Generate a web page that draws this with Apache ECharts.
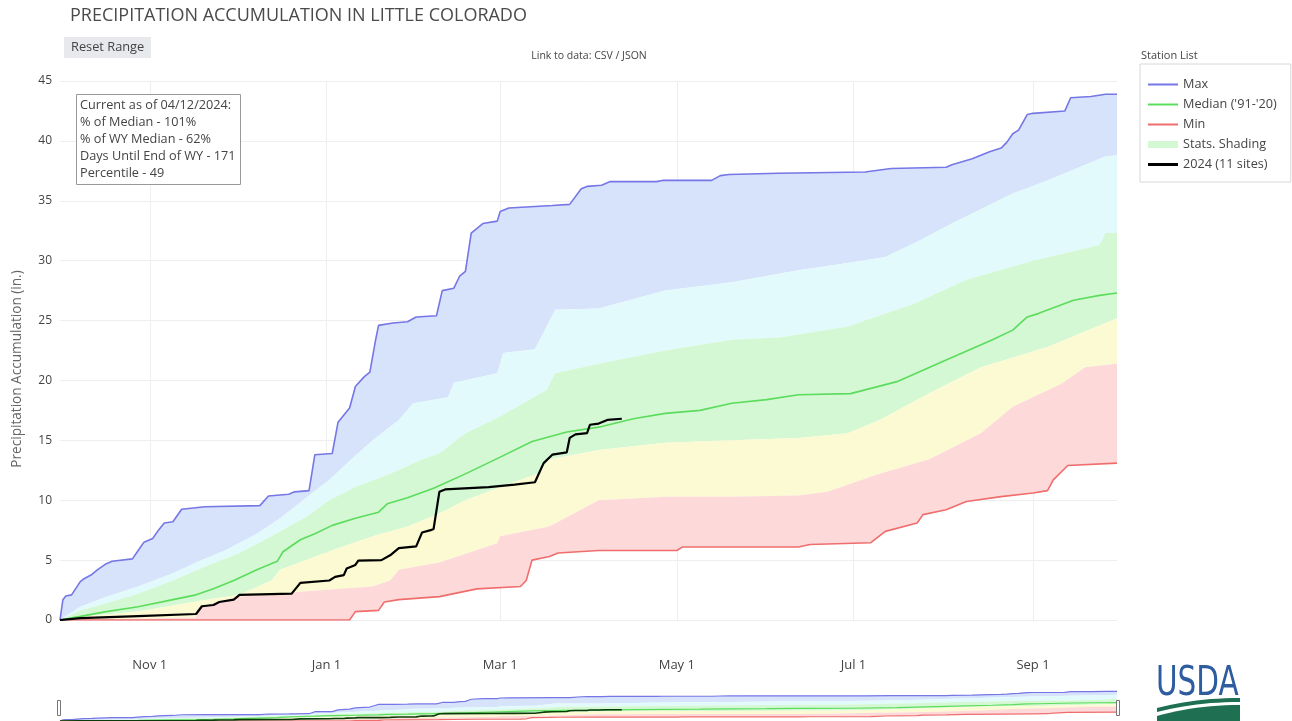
<!DOCTYPE html>
<html>
<head>
<meta charset="utf-8">
<script src="https://cdn.jsdelivr.net/npm/echarts@6/dist/echarts.min.js"></script>
<style>
html,body{margin:0;padding:0;background:#fff;}
#chart{width:1292px;height:721px;}
</style>
</head>
<body>
<div id="chart"></div>
<script>
// x values are days since 2023-10-01 (start of water year 2024)
const tickDays   = [31, 92, 152, 213, 274, 336];
const tickLabels = ['Nov 1', 'Jan 1', 'Mar 1', 'May 1', 'Jul 1', 'Sep 1'];

const maxPts = [[0,0],[1,1.7],[2,2.0],[4,2.1],[7,3.2],[8,3.4],[11,3.8],[13,4.2],[16,4.7],[18,4.9],[25,5.1],[27,5.8],[29,6.5],[32,6.8],[34,7.5],[36,8.1],[39,8.2],[42,9.25],[50,9.45],[69,9.55],[72,10.35],[79,10.5],[81,10.7],[86,10.8],[88,13.8],[94,13.9],[96,16.5],[100,17.7],[102,19.5],[105,20.3],[107,20.7],[109,23.4],[110,24.6],[115,24.8],[120,24.9],[123,25.3],[130,25.4],[132,27.5],[136,27.7],[138,28.7],[140,29.1],[142,32.3],[146,33.1],[151,33.3],[152,34.1],[155,34.4],[170,34.6],[176,34.7],[180,36.0],[182,36.2],[187,36.3],[190,36.6],[206,36.6],[208,36.7],[225,36.7],[228,37.1],[231,37.2],[248,37.3],[278,37.4],[287,37.7],[306,37.8],[308,38.0],[315,38.5],[321,39.1],[325,39.4],[327,39.9],[329,40.6],[331,40.9],[334,42.2],[336,42.3],[347,42.5],[349,43.6],[356,43.7],[361,43.9],[365,43.9]];

const medianPts = [[0,0],[7,0.3],[16,0.7],[27,1.1],[39,1.7],[47,2.1],[53,2.6],[60,3.3],[68,4.2],[75,4.9],[77,5.7],[83,6.7],[88,7.2],[94,7.9],[102,8.5],[110,9.0],[113,9.7],[120,10.2],[129,11.0],[140,12.2],[152,13.6],[163,14.9],[175,15.7],[186,16.1],[198,16.8],[209,17.25],[221,17.5],[232,18.1],[244,18.4],[255,18.8],[273,18.9],[289,19.9],[306,21.7],[322,23.4],[329,24.2],[334,25.3],[338,25.6],[350,26.7],[359,27.1],[365,27.3]];

const minPts = [[0,0],[100,0],[102,0.7],[110,0.8],[112,1.5],[117,1.7],[131,1.95],[136,2.2],[144,2.6],[159,2.8],[161,3.3],[163,5.0],[169,5.3],[172,5.6],[186,5.8],[213,5.8],[215,6.1],[255,6.1],[259,6.3],[280,6.45],[285,7.4],[296,8.1],[298,8.8],[306,9.2],[313,9.9],[325,10.3],[336,10.6],[341,10.8],[343,11.7],[348,12.9],[365,13.1]];

const wy2024Pts = [[0,0],[7,0.15],[27,0.33],[47,0.5],[49,1.15],[53,1.25],[55,1.5],[60,1.7],[62,2.1],[80,2.2],[83,3.1],[93,3.3],[95,3.6],[98,3.75],[99,4.3],[102,4.6],[103,4.95],[111,5.0],[114,5.4],[117,6.0],[123,6.15],[125,7.3],[128,7.5],[129,7.6],[131,10.7],[133,10.9],[148,11.1],[157,11.3],[164,11.5],[167,13.1],[170,13.8],[175,14.0],[176,15.2],[178,15.5],[182,15.6],[183,16.3],[186,16.4],[189,16.7],[194,16.8]];

const p90Pts = [[0,0],[7,1.1],[16,1.95],[27,2.8],[39,3.9],[48,4.9],[57,5.8],[68,7.2],[76,8.5],[85,10.2],[93,11.7],[101,13.5],[108,15.0],[117,16.7],[122,18.1],[134,18.6],[136,19.8],[151,20.6],[153,22.3],[164,22.6],[171,25.9],[186,26.0],[209,27.5],[232,28.2],[255,29.2],[272,29.8],[285,30.3],[297,31.7],[308,33.1],[329,35.6],[341,36.7],[352,37.8],[361,38.7],[365,38.8]];

const p70Pts = [[0,0],[7,0.8],[16,1.4],[27,2.2],[39,3.3],[50,4.45],[62,5.6],[73,7.0],[85,8.6],[93,10.0],[102,11.1],[114,12.2],[125,13.4],[131,13.9],[140,15.6],[152,17.0],[168,19.2],[171,20.6],[186,21.4],[209,22.5],[232,23.4],[249,23.6],[272,24.5],[295,26.4],[313,28.4],[336,30.0],[359,31.3],[361,32.3],[365,32.3]];

const p30Pts = [[0,0],[7,0.28],[27,0.7],[50,1.67],[62,2.1],[73,3.3],[76,4.2],[85,5.0],[96,6.0],[108,7.0],[120,7.8],[131,8.9],[140,10.0],[152,11.1],[165,12.2],[169,13.4],[186,14.2],[209,14.8],[232,15.0],[255,15.2],[272,15.6],[283,16.7],[300,18.9],[318,21.1],[341,22.8],[365,25.2]];

const p10Pts = [[0,0],[27,0.1],[47,0.2],[48,1.1],[62,1.95],[76,2.2],[85,2.4],[108,2.8],[114,3.3],[117,4.2],[131,4.8],[151,6.4],[152,7.0],[169,7.8],[186,10.0],[209,10.3],[232,10.3],[255,10.4],[265,10.7],[283,12.2],[300,13.4],[318,15.6],[329,17.8],[346,19.75],[354,21.1],[365,21.4]];

const infoLines = ['Current as of 04/12/2024:', '% of Median - 101%', '% of WY Median - 62%', 'Days Until End of WY - 171', 'Percentile - 49'];

// styles
const FONT = "'Open Sans', 'Noto Sans', sans-serif";
const bands = [
  { upper: maxPts, lower: p90Pts, color: '#d6e3fa' },
  { upper: p90Pts, lower: p70Pts, color: '#e2fafc' },
  { upper: p70Pts, lower: p30Pts, color: '#d4f8d4' },
  { upper: p30Pts, lower: p10Pts, color: '#fbfad3' },
  { upper: p10Pts, lower: minPts, color: '#fdd9d9' }
];
const C_MAX = '#7676e6', C_MED = '#5cdc5c', C_MIN = '#ef6d6d', C_NOW = '#000000', C_SHADE = '#d4f8d4';

function bandSeries(name, xi) {
  return {
    type: 'custom', name: name, xAxisIndex: xi, yAxisIndex: xi, z: 1, silent: true,
    itemStyle: { color: C_SHADE },
    encode: { x: 0, y: 1 },
    data: bands.map((b, i) => [i, 0]),
    renderItem: function (params, api) {
      const b = bands[params.dataIndex];
      const pts = b.upper.map(p => api.coord(p))
        .concat(b.lower.slice().reverse().map(p => api.coord(p)));
      return { type: 'polygon', shape: { points: pts }, style: { fill: b.color } };
    }
  };
}
function lineSeries(name, data, color, width, xi, z) {
  return {
    type: 'line', name: name, data: data, xAxisIndex: xi, yAxisIndex: xi,
    symbol: 'none', showSymbol: false, z: z, silent: true,
    lineStyle: { color: color, width: width }, itemStyle: { color: color }
  };
}

// USDA logo swoosh outline helpers (decoration only)
function curve(x0, y0, cx, cy, x1, y1, n) {
  const out = [];
  for (let i = 0; i <= n; i++) {
    const t = i / n;
    out.push([(1 - t) * (1 - t) * x0 + 2 * (1 - t) * t * cx + t * t * x1,
              (1 - t) * (1 - t) * y0 + 2 * (1 - t) * t * cy + t * t * y1]);
  }
  return out;
}
const stripeTop = curve(1157, 708, 1195, 698, 1240, 698, 12);
const stripeBot = curve(1157, 712, 1195, 702, 1240, 702, 12).reverse();
const fieldTop = curve(1157, 716, 1195, 705, 1240, 705, 12);

const lineIcon = 'path://M0,0H30V2H0Z';
const thickIcon = 'path://M0,0H30V3H0Z';

const chart = echarts.init(document.getElementById('chart'), null, { renderer: 'canvas' });
const option = {
  animation: false,
  backgroundColor: '#fff',
  textStyle: { fontFamily: FONT },
  grid: [
    { left: 60, right: 175, top: 81, height: 539 },
    { left: 60, right: 175, top: 690, height: 31 }
  ],
  xAxis: [
    {
      type: 'value', gridIndex: 0, min: 0, max: 365,
      axisLine: { show: false },
      axisTick: { show: false, customValues: tickDays },
      axisLabel: {
        customValues: tickDays, margin: 39, color: '#444', fontSize: 13, fontFamily: FONT,
        formatter: v => { const i = tickDays.indexOf(v); return i >= 0 ? tickLabels[i] : ''; }
      },
      splitLine: { show: true, lineStyle: { color: '#eeeeee', width: 1 } }
    },
    {
      type: 'value', gridIndex: 1, min: 0, max: 365,
      axisLine: { show: false }, axisTick: { show: false }, axisLabel: { show: false },
      splitLine: { show: false }
    }
  ],
  yAxis: [
    {
      type: 'value', gridIndex: 0, min: 0, max: 45, interval: 5,
      axisLine: { show: false }, axisTick: { show: false },
      axisLabel: { color: '#444', fontSize: 12, margin: 8, fontFamily: FONT },
      splitLine: { lineStyle: { color: '#eeeeee', width: 1 } }
    },
    {
      type: 'value', gridIndex: 1, min: 0, max: 46,
      axisLine: { show: false }, axisTick: { show: false }, axisLabel: { show: false },
      splitLine: { show: false }
    }
  ],
  legend: {
    orient: 'vertical', left: 1140, top: 64,
    padding: [14, 14, 11, 8],
    itemWidth: 30, itemHeight: 14, itemGap: 7,
    borderColor: '#d8d8d8', borderWidth: 1, backgroundColor: '#fff',
    symbolKeepAspect: true,
    textStyle: { color: '#444', fontSize: 12.7, fontFamily: FONT },
    selectedMode: false,
    data: [
      { name: 'Max', icon: lineIcon, itemStyle: { color: C_MAX, borderWidth: 0 } },
      { name: "Median ('91-'20)", icon: lineIcon, itemStyle: { color: C_MED, borderWidth: 0 } },
      { name: 'Min', icon: lineIcon, itemStyle: { color: C_MIN, borderWidth: 0 } },
      { name: 'Stats. Shading', icon: 'path://M0,0H30V7H0Z', itemStyle: { color: C_SHADE, borderWidth: 0 } },
      { name: '2024 (11 sites)', icon: thickIcon, itemStyle: { color: C_NOW, borderWidth: 0 } }
    ]
  },
  series: [
    bandSeries('Stats. Shading', 0),
    lineSeries('Max', maxPts, C_MAX, 1.6, 0, 2),
    lineSeries("Median ('91-'20)", medianPts, C_MED, 1.6, 0, 2),
    lineSeries('Min', minPts, C_MIN, 1.6, 0, 2),
    lineSeries('2024 (11 sites)', wy2024Pts, C_NOW, 2.2, 0, 3),
    bandSeries('mini shading', 1),
    lineSeries('mini max', maxPts, C_MAX, 1.2, 1, 2),
    lineSeries('mini median', medianPts, C_MED, 1.2, 1, 2),
    lineSeries('mini min', minPts, C_MIN, 1.2, 1, 2),
    lineSeries('mini 2024', wy2024Pts, '#0b3a0b', 1.6, 1, 3)
  ],
  graphic: [
    { type: 'text', x: 70, y: 16, style: { text: 'PRECIPITATION ACCUMULATION IN LITTLE COLORADO', fontSize: 18, fontFamily: FONT, fill: '#4a4a4a', align: 'left', verticalAlign: 'middle', textAlign: 'left', textVerticalAlign: 'middle' } },
    { type: 'rect', shape: { x: 64, y: 37, width: 87, height: 21 }, style: { fill: '#e8e9ec' } },
    { type: 'text', x: 71, y: 47.5, style: { text: 'Reset Range', fontSize: 12.8, fontFamily: FONT, fill: '#444', align: 'left', verticalAlign: 'middle', textAlign: 'left', textVerticalAlign: 'middle' } },
    { type: 'text', x: 589, y: 56, style: { text: 'Link to data: CSV / JSON', fontSize: 10.5, fontFamily: FONT, fill: '#444', align: 'center', verticalAlign: 'middle', textAlign: 'center', textVerticalAlign: 'middle' } },
    { type: 'text', x: 1141, y: 56, style: { text: 'Station List', fontSize: 11, fontFamily: FONT, fill: '#444', align: 'left', verticalAlign: 'middle', textAlign: 'left', textVerticalAlign: 'middle' } },
    { type: 'text', x: 17, y: 369, rotation: Math.PI / 2, style: { text: 'Precipitation Accumulation (in.)', fontSize: 13.6, fontFamily: FONT, fill: '#666', align: 'center', verticalAlign: 'middle', textAlign: 'center', textVerticalAlign: 'middle' } },
    { type: 'rect', z: 10, shape: { x: 76.5, y: 94.5, width: 164, height: 90 }, style: { fill: '#fff', stroke: '#999', lineWidth: 1 } },
    { type: 'text', z: 11, x: 80, y: 96.5, style: { text: infoLines.join('\n'), lineHeight: 17, fontSize: 12.7, fontFamily: FONT, fill: '#444', align: 'left', verticalAlign: 'top', textAlign: 'left', textVerticalAlign: 'top' } },
    { type: 'rect', z: 10, shape: { x: 57.5, y: 700.5, width: 3, height: 15 }, style: { fill: '#fff', stroke: '#777', lineWidth: 1 } },
    { type: 'rect', z: 10, shape: { x: 1116.5, y: 700.5, width: 3, height: 15 }, style: { fill: '#fff', stroke: '#777', lineWidth: 1 } },
    { type: 'text', x: 1156, y: 684, scaleX: 0.72, style: { text: 'USDA', fontSize: 41, fontFamily: "'DejaVu Sans', sans-serif", fill: '#2d5d9f', align: 'left', verticalAlign: 'middle', textAlign: 'left', textVerticalAlign: 'middle' } },
    { type: 'polygon', shape: { points: stripeTop.concat(stripeBot) }, style: { fill: '#1f6f52' } },
    { type: 'polygon', shape: { points: fieldTop.concat([[1240, 721], [1157, 721]]) }, style: { fill: '#1f6f52' } }
  ]
};
chart.setOption(option);
</script>
</body>
</html>
